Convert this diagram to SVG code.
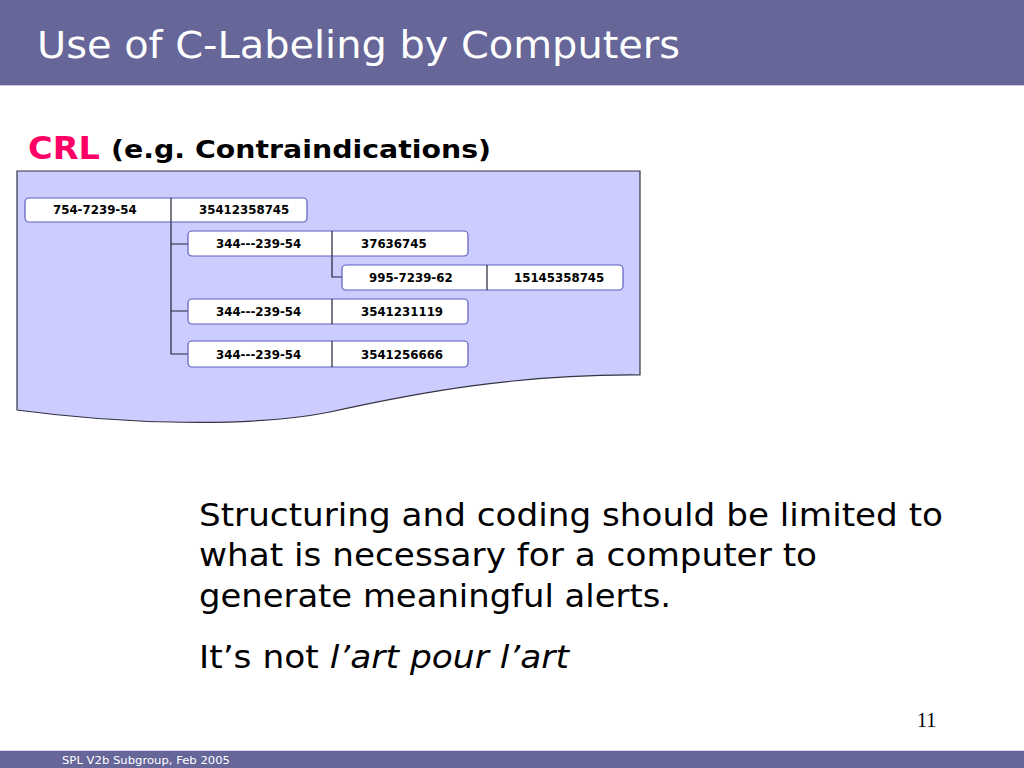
<svg xmlns="http://www.w3.org/2000/svg" width="1024" height="768" viewBox="0 0 1024 768">
<style>
.bar{fill:#666699}
.box{fill:#ffffff;stroke:#5c5cc0;stroke-width:1.2}
.div{stroke:#222233;stroke-width:1.2}
.bt{font-family:"DejaVu Sans",Verdana,sans-serif;font-weight:bold;font-size:11.8px;fill:#000}
.conn{fill:none;stroke:#222233;stroke-width:1.2}
.body{font-family:"DejaVu Sans",sans-serif;font-size:32px;fill:#000}
</style>
<rect class="bar" x="0" y="0" width="1024" height="85"/>
<line x1="0" y1="85.5" x2="1024" y2="85.5" stroke="#c8c8dc" stroke-width="1"/>
<text x="37" y="58" font-family="'DejaVu Sans',sans-serif" font-size="37" fill="#ffffff" textLength="643" lengthAdjust="spacingAndGlyphs">Use of C-Labeling by Computers</text>
<text x="28" y="159" font-family="'DejaVu Sans',sans-serif" font-weight="bold" font-size="32" fill="#ff0066" textLength="72" lengthAdjust="spacingAndGlyphs">CRL</text>
<text x="111" y="158" font-family="'DejaVu Sans',sans-serif" font-weight="bold" font-size="25" fill="#000" textLength="380" lengthAdjust="spacingAndGlyphs">(e.g. Contraindications)</text>
<g id="document">
<path d="M17,171 H640 V375 C 520,374 420,392 330,412 C 250,428 120,424 17,410 Z" fill="#ccccff" stroke="#333344" stroke-width="1.2"/>
</g>
<g id="connectors">
<path class="conn" d="M171,221 V354 H188 M171,244 H188 M171,311 H188"/>
<path class="conn" d="M332,256 V277 H342"/>
</g>
<g id="n1">
<rect class="box" x="25" y="198" width="282" height="24" rx="4"/>
<line class="div" x1="171" y1="198" x2="171" y2="222"/>
<text class="bt" x="53" y="214">754-7239-54</text>
<text class="bt" x="199" y="214">35412358745</text>
</g>
<g id="n2">
<rect class="box" x="188" y="231" width="280" height="25" rx="4"/>
<line class="div" x1="332" y1="231" x2="332" y2="256"/>
<text class="bt" x="216" y="247.5">344---239-54</text>
<text class="bt" x="361" y="247.5">37636745</text>
</g>
<g id="n3">
<rect class="box" x="342" y="265" width="281" height="25" rx="4"/>
<line class="div" x1="487" y1="265" x2="487" y2="290"/>
<text class="bt" x="369" y="281.5">995-7239-62</text>
<text class="bt" x="514" y="281.5">15145358745</text>
</g>
<g id="n4">
<rect class="box" x="188" y="299" width="280" height="25" rx="4"/>
<line class="div" x1="332" y1="299" x2="332" y2="324"/>
<text class="bt" x="216" y="315.5">344---239-54</text>
<text class="bt" x="361" y="315.5">3541231119</text>
</g>
<g id="n5">
<rect class="box" x="188" y="341" width="280" height="26" rx="4"/>
<line class="div" x1="332" y1="341" x2="332" y2="367"/>
<text class="bt" x="216" y="358.5">344---239-54</text>
<text class="bt" x="361" y="358.5">3541256666</text>
</g>
<text class="body" x="199" y="526" textLength="744" lengthAdjust="spacingAndGlyphs">Structuring and coding should be limited to</text>
<text class="body" x="199" y="566" textLength="618" lengthAdjust="spacingAndGlyphs">what is necessary for a computer to</text>
<text class="body" x="199" y="607" textLength="472" lengthAdjust="spacingAndGlyphs">generate meaningful alerts.</text>
<text class="body" x="199" y="668" textLength="370" lengthAdjust="spacingAndGlyphs">It’s not <tspan font-style="italic">l’art pour l’art</tspan></text>
<text x="917" y="727" font-family="'Liberation Serif',serif" font-size="20" fill="#000">11</text>
<rect class="bar" x="0" y="751" width="1024" height="17"/>
<line x1="0" y1="750.5" x2="1024" y2="750.5" stroke="#d8d8ec" stroke-width="1"/>
<text x="62" y="764" font-family="'DejaVu Sans',sans-serif" font-size="11" fill="#ffffff" textLength="168" lengthAdjust="spacingAndGlyphs">SPL V2b Subgroup, Feb 2005</text>
</svg>
